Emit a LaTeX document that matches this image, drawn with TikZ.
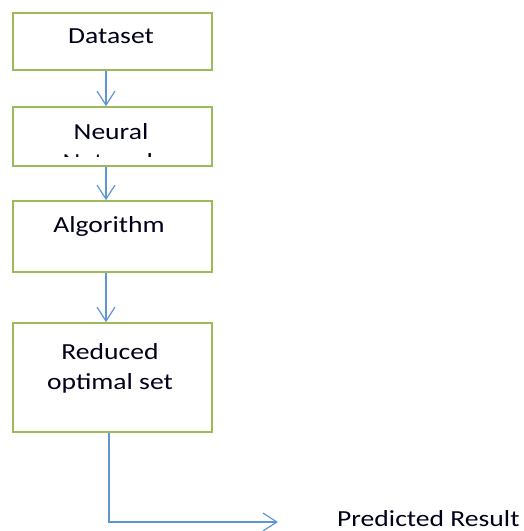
\documentclass[tikz,border=0pt]{standalone}
\usepackage{fontspec}
\setmainfont[FakeStretch=1.2]{Carlito}
\usetikzlibrary{arrows.meta}
\definecolor{boxgreen}{RGB}{155,187,89}
\definecolor{flowblue}{RGB}{95,150,210}

\begin{document}
\begin{tikzpicture}[x=1pt, y=-1pt,
        stage/.style={draw=boxgreen, line width=1.6pt, minimum width=199pt, inner sep=0pt},
        label text/.style={font=\fontsize{23}{30}\selectfont, inner sep=0pt, text=black!90!blue},
        flow/.style={draw=flowblue, line width=1.2pt, -{Straight Barb[length=14pt, width=18pt, line width=1.2pt]}}]
        \useasboundingbox (0,0) rectangle (523,531);

        \node[stage, minimum height=57pt] (D) at (112.5,41.5) {};
        \node[stage, minimum height=59pt] (N) at (112.5,136.5) {};
        \node[stage, minimum height=71pt] (A) at (112.5,236.5) {};
        \node[stage, minimum height=109pt] (R) at (112.5,377.5) {};

        \node[label text, anchor=base] (Dt) at (111,43) {Dataset};
        \node[label text, anchor=base] (Nt) at (111,139) {Neural};
        \begin{scope}
            \clip (13,107) rectangle (212,156);
            \node[label text, anchor=base] (Nt2) at (111,169) {Network};
        \end{scope}
        \node[label text, anchor=base] (At) at (109,232) {Algorithm};
        \node[label text, anchor=north, align=center] (Rt) at (110,343) {Reduced\\optimal set};
        \node[label text, anchor=base west, text depth=0pt] (P) at (337,526) {Predicted Result};
        \coordinate (E) at (278,522);

        \draw[flow] ([xshift=-6.5pt]D.south) -- ([xshift=-6.5pt]N.north);
        \draw[flow] ([xshift=-6.5pt]N.south) -- ([xshift=-6.5pt]A.north);
        \draw[flow] ([xshift=-6.5pt]A.south) -- ([xshift=-6.5pt]R.north);
        \draw[flow] ([xshift=-3.5pt]R.south) |- (E);
    \end{tikzpicture}
\end{document}
